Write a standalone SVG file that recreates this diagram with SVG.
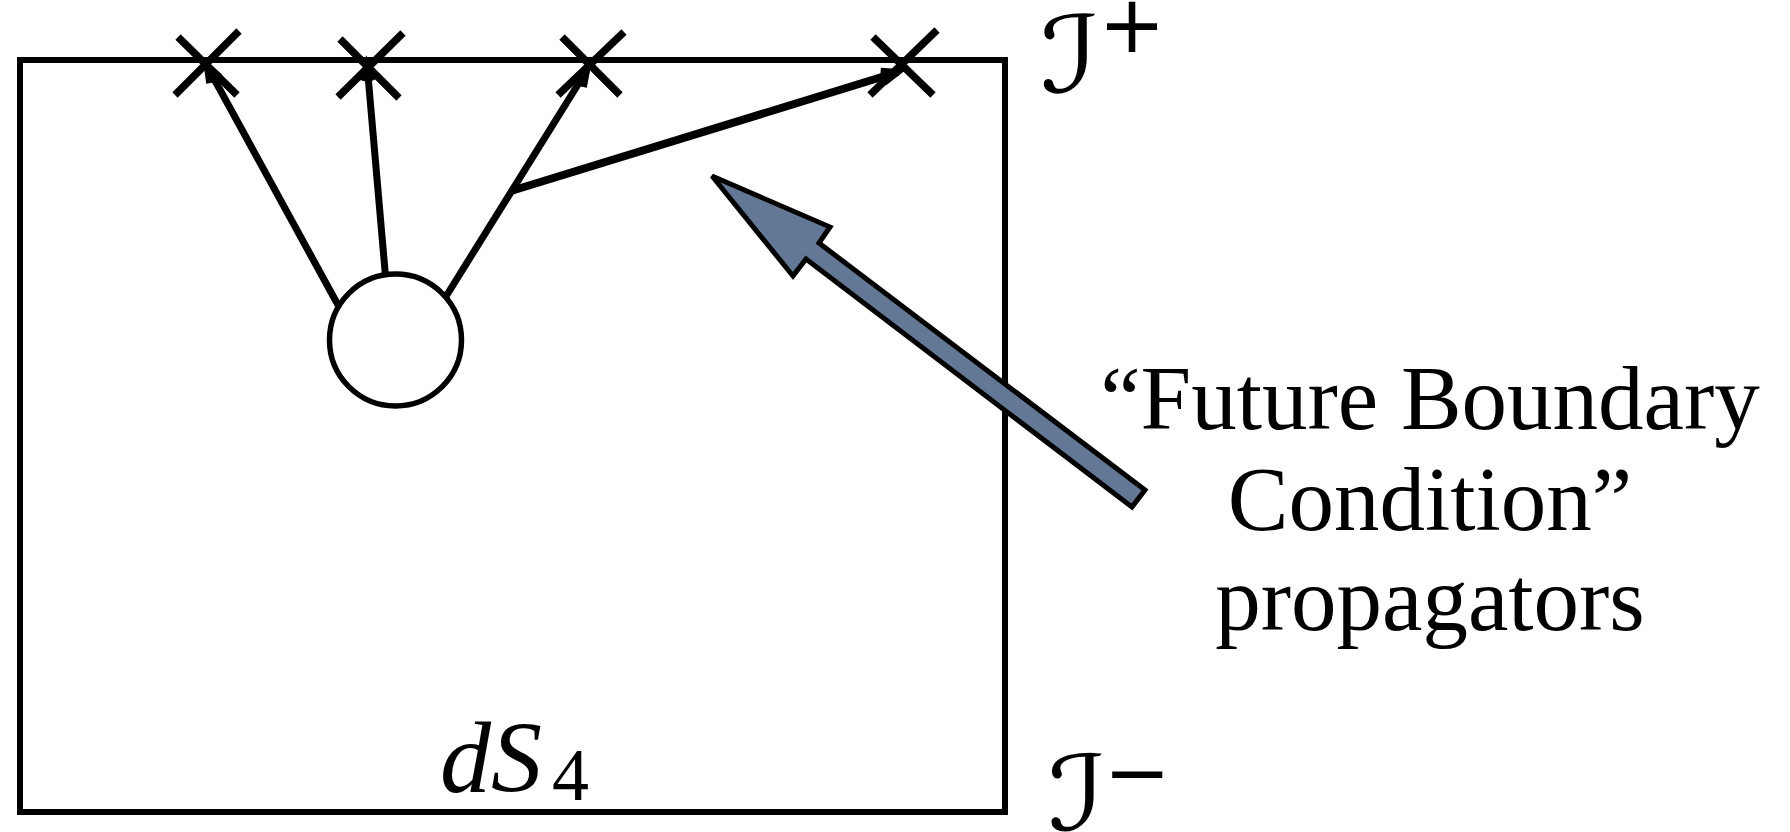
<svg xmlns="http://www.w3.org/2000/svg" width="1790" height="832" viewBox="0 0 1790 832">
<defs>
<style>
.frame{fill:none;stroke:#000;stroke-width:6}
.cross line{stroke:#000;stroke-width:7.5;stroke-linecap:butt}
.prop{stroke:#000;stroke-width:7;fill:none;marker-end:url(#head)}
.vertex{fill:#fff;stroke:#000;stroke-width:5.5}
.callout{fill:#637894;stroke:#000;stroke-width:5;stroke-linejoin:miter}
.label{font-family:"Liberation Serif","Times New Roman",serif;font-size:91px;fill:#000;text-anchor:middle}
.cal{font-family:"DejaVu Serif","DejaVu Sans",serif;fill:#000}
.sym{font-family:"DejaVu Sans",sans-serif;fill:#000}
.mathit{font-family:"Liberation Serif","Times New Roman",serif;font-style:italic;fill:#000}
</style>
<marker id="head" markerUnits="userSpaceOnUse" markerWidth="30" markerHeight="30" refX="0" refY="0" orient="auto" viewBox="-20 -10 24 20" overflow="visible">
<path d="M-13,-5 L0,0 L-13,5" fill="none" stroke="#000" stroke-width="5"/>
</marker>
</defs>
<rect x="0" y="0" width="1790" height="832" fill="#fff"/>

<g id="spacetime">
<rect class="frame" x="20" y="60" width="985" height="752"/>
</g>

<g id="connectors">
<path class="prop" d="M338,305 L207,66"/>
<path class="prop" d="M386,282 L367,64"/>
<path class="prop" d="M445,298 L587,70"/>
<path class="prop" d="M511,191 L898,72" style="stroke-width:8"/>
</g>

<g id="vertex">
<circle class="vertex" cx="395.5" cy="340" r="66"/>
</g>

<g id="cross1" class="cross">
<line x1="178" y1="37" x2="237" y2="95"/>
<line x1="239" y1="31" x2="175" y2="95"/>
</g>
<g id="cross2" class="cross">
<line x1="340" y1="39" x2="399" y2="98"/>
<line x1="403" y1="33" x2="338" y2="97"/>
</g>
<g id="cross3" class="cross">
<line x1="562" y1="37" x2="620" y2="95"/>
<line x1="624" y1="32" x2="558" y2="95"/>
</g>
<g id="cross4" class="cross">
<line x1="873" y1="37" x2="933" y2="95"/>
<line x1="937" y1="30" x2="870" y2="95"/>
</g>

<g id="callout-arrow">
<polygon class="callout" points="712,176 830,227 819,243 1145,490 1132,507 806,259 793,276"/>
</g>

<g id="label-future">
<text class="label" x="1430" y="429">“Future Boundary</text>
<text class="label" x="1430" y="530">Condition”</text>
<text class="label" x="1430" y="630">propagators</text>
</g>

<g id="label-scri-plus">
<text class="cal" transform="translate(1040,92) scale(1.2,1)" x="0" y="0" font-size="106">ℐ</text>
<text class="sym" x="1132" y="52" font-size="80" text-anchor="middle">+</text>
</g>
<g id="label-scri-minus">
<text class="cal" transform="translate(1048,830) scale(1.2,1)" x="0" y="0" font-size="104">ℐ</text>
<text class="sym" x="1137" y="800" font-size="80" text-anchor="middle">−</text>
</g>
<g id="label-ds4">
<text class="mathit" x="440" y="792" font-size="102">dS<tspan font-style="normal" x="552" y="800" font-size="74">4</tspan></text>
</g>
</svg>
